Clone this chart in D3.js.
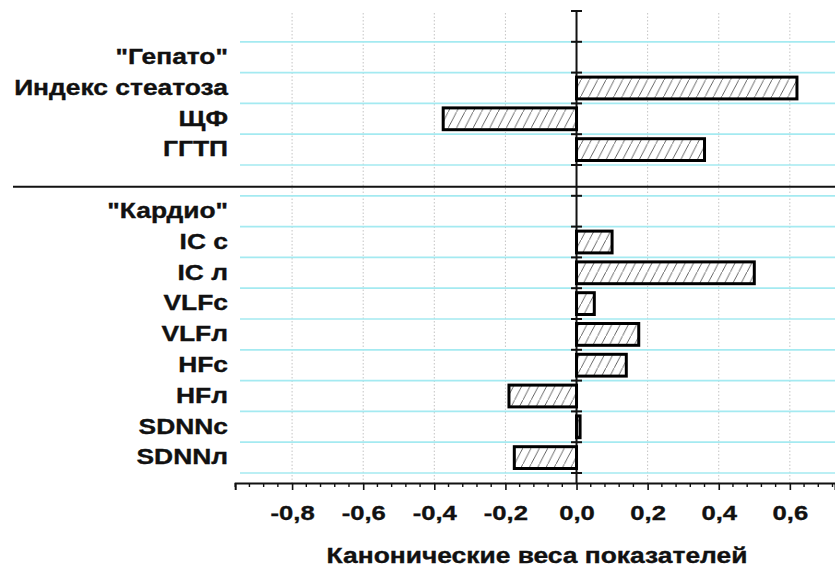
<!DOCTYPE html>
<html>
<head>
<meta charset="utf-8">
<script src="https://cdn.jsdelivr.net/npm/d3@7"></script>
<style>
  html, body { margin: 0; padding: 0; background: #fff; }
  svg { display: block; }
  text { font-family: "Liberation Sans", Arial, sans-serif; font-weight: bold; fill: #111;
         stroke: #111; stroke-width: 0.35px; }
</style>
</head>
<body>
<svg id="chart" width="835" height="572"></svg>
<script>
// Row labels, top to bottom (empty string = spacer row)
const categories = ['"Гепато"', 'Индекс стеатоза', 'ЩФ', 'ГГТП', '', '"Кардио"',
  'IC с', 'IC л', 'VLFс', 'VLFл', 'HFс', 'HFл', 'SDNNс', 'SDNNл'];
// Canonical weights (null = header row without a bar)
const weights = [null, 0.62, -0.375, 0.36, null, null,
  0.10, 0.50, 0.05, 0.175, 0.14, -0.19, 0.01, -0.175];
const majorTicks = [-0.8, -0.6, -0.4, -0.2, 0.0, 0.2, 0.4, 0.6];
const xTitle = 'Канонические веса показателей';

const svg = d3.select('#chart');
const W = 835;
const STRETCH = 1.2; // wide lettering

const x = d3.scaleLinear().domain([-0.96, 0.727]).range([235.2, 835]);
// row boundaries: 0 = top cap of the axis, 15 = last grid line
const row = d3.scaleLinear().domain([0, 15]).range([11, 473]);
const axisY = 483;
const fmt = v => d3.format('.1f')(v).replace('.', ',').replace('−', '-');

// hatch fill
const defs = svg.append('defs');
const pat = defs.append('pattern').attr('id', 'hatch')
  .attr('patternUnits', 'userSpaceOnUse').attr('width', 8.3).attr('height', 16);
pat.append('rect').attr('width', 8.3).attr('height', 16).attr('fill', '#fff');
pat.append('path').attr('d', 'M-0.52,17 L8.82,-1')
  .attr('stroke', '#4a4a4a').attr('stroke-width', 0.85).attr('fill', 'none');

// vertical dotted grid
svg.append('g').selectAll('line').data(majorTicks.filter(d => d !== 0)).join('line')
  .attr('x1', d => x(d)).attr('x2', d => x(d))
  .attr('y1', 13).attr('y2', axisY)
  .attr('stroke', '#c4c4c4').attr('stroke-width', 1).attr('stroke-dasharray', '1.5,2');

// horizontal cyan grid at row boundaries
svg.append('g').selectAll('line').data(d3.range(1, 16)).join('line')
  .attr('x1', 240).attr('x2', W)
  .attr('y1', d => row(d)).attr('y2', d => row(d))
  .attr('stroke', '#a4eaf1').attr('stroke-width', 1.7);

// group separator inside the spacer row
svg.append('line').attr('x1', 13).attr('x2', W)
  .attr('y1', row(5.71)).attr('y2', row(5.71))
  .attr('stroke', '#111').attr('stroke-width', 2);

// vertical zero axis with ticks at each row boundary
const yAxis = svg.append('g').attr('stroke', '#111');
yAxis.append('line').attr('x1', x(0)).attr('x2', x(0))
  .attr('y1', row(0)).attr('y2', axisY).attr('stroke-width', 2);
yAxis.selectAll('line.t').data(d3.range(0, 16)).join('line').attr('class', 't')
  .attr('x1', x(0) - 5.5).attr('x2', x(0) + 5.5)
  .attr('y1', d => row(d)).attr('y2', d => row(d)).attr('stroke-width', 2);

// bars
const band = row(1) - row(0);
const data = categories.map((c, i) => ({ c, v: weights[i], i: i + 1 }));
svg.append('g').selectAll('rect').data(data.filter(d => d.v !== null)).join('rect')
  .attr('x', d => Math.min(x(0), x(d.v)))
  .attr('width', d => Math.abs(x(d.v) - x(0)))
  .attr('y', d => row(d.i) + 4.5)
  .attr('height', band - 9)
  .attr('fill', 'url(#hatch)')
  .attr('stroke', '#000').attr('stroke-width', 3);

// row labels
svg.append('g').selectAll('text').data(data.filter(d => d.c !== '')).join('text')
  .attr('transform', d => `translate(228,${row(d.i) + band / 2 - 1}) scale(${STRETCH},1)`)
  .attr('dy', '0.35em').attr('text-anchor', 'end')
  .style('font-size', '22px')
  .text(d => d.c);

// bottom axis
const xAxis = svg.append('g').attr('transform', `translate(0,${axisY})`);
xAxis.call(d3.axisBottom(x).tickValues(majorTicks).tickFormat(fmt).tickSize(7).tickPadding(15));
xAxis.select('.domain').attr('stroke', '#111').attr('stroke-width', 2);
xAxis.selectAll('.tick line').attr('stroke', '#111').attr('stroke-width', 1.6);
xAxis.selectAll('.tick text').style('font-size', '20.5px')
  .style('font-family', '"Liberation Sans", Arial, sans-serif').style('font-weight', 'bold')
  .attr('fill', '#111').attr('transform', 'scale(1.25,1)');
const minor = d3.range(-0.96, 0.73, 0.04).filter(v => !majorTicks.some(m => Math.abs(m - v) < 1e-6));
xAxis.append('g').selectAll('line').data(minor).join('line')
  .attr('x1', d => x(d)).attr('x2', d => x(d)).attr('y1', 0).attr('y2', 4)
  .attr('stroke', '#111').attr('stroke-width', 1.4);

// axis title
svg.append('text').attr('transform', `translate(537,563) scale(${STRETCH},1)`)
  .attr('text-anchor', 'middle')
  .style('font-size', '22px').text(xTitle);
</script>
</body>
</html>
